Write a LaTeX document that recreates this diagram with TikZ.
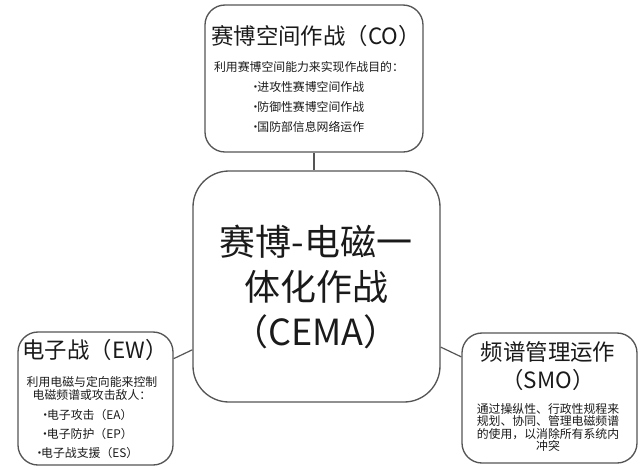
\documentclass[tikz,border=0pt]{standalone}
\usepackage{fontspec}
\setmainfont{Noto Sans CJK SC}
\usetikzlibrary{positioning}

\definecolor{linegray}{HTML}{555555}
\definecolor{textgray}{HTML}{1A1A1A}

\newcommand\listdot{\makebox[0.3em][c]{·}}

\tikzset{
  panel/.style={draw=linegray, line width=1pt, rounded corners=#1, inner sep=0pt},
  link/.style={draw=linegray, line width=0.9pt},
  headtext/.style={text=textgray, inner sep=0pt, align=center, font=\fontsize{16.8pt}{21pt}\selectfont},
  bigtext/.style={text=textgray, inner sep=0pt, align=center, font=\fontsize{27pt}{34pt}\selectfont},
  smalltext/.style={text=textgray, inner sep=0pt, align=center, font=\fontsize{8.9pt}{#1}\selectfont},
}

\begin{document}
\begin{tikzpicture}[x=0.75pt,y=-0.75pt]
\useasboundingbox (0,0) rectangle (640,469);

% the four boxes
\node[panel=15pt, minimum width=163.5pt, minimum height=110.25pt] (co) at (314,78.5) {};
\node[panel=27pt, minimum width=185.25pt, minimum height=173.25pt] (cema) at (316.5,286.5) {};
\node[panel=15pt, minimum width=116.25pt, minimum height=99.75pt] (ew) at (95.5,398.5) {};
\node[panel=15pt, minimum width=131.25pt, minimum height=97.5pt] (smo) at (549.5,398) {};

% connectors
\draw[link] (co.south) -- (co.south |- cema.north);
\draw[link] (ew.27) -- (cema.207);
\draw[link] (cema.-26) -- (smo.155);

% top box
\node[headtext] (co title) at (316,36) {赛博空间作战（CO）};
\node[smalltext=15pt] (co text) at (309,97) {利用赛博空间能力来实现作战目的：\\\listdot 进攻性赛博空间作战\\\listdot 防御性赛博空间作战\\\listdot 国防部信息网络运作};

% centre box
\node[bigtext] (cema text) at (316,287) {赛博-电磁一\\体化作战\\（CEMA）};

% left box
\node[headtext] (ew title) at (95,350) {电子战（EW）};
\node[smalltext=9.3pt] (ew text) at (92,388.5) {利用电磁与定向能来控制\\电磁频谱或攻击敌人：};
\node[smalltext=14.25pt] (ew list) at (88,433.5) {\listdot 电子攻击（EA）\\\listdot 电子防护（EP）\\\listdot 电子战支援（ES）};

% right box
\node[headtext] (smo title) at (548,366) {频谱管理运作\\（SMO）};
\node[smalltext=9.2pt] (smo text) at (548,427.5) {通过操纵性、行政性规程来\\规划、协同、管理电磁频谱\\的使用，以消除所有系统内\\冲突};

\end{tikzpicture}
\end{document}
